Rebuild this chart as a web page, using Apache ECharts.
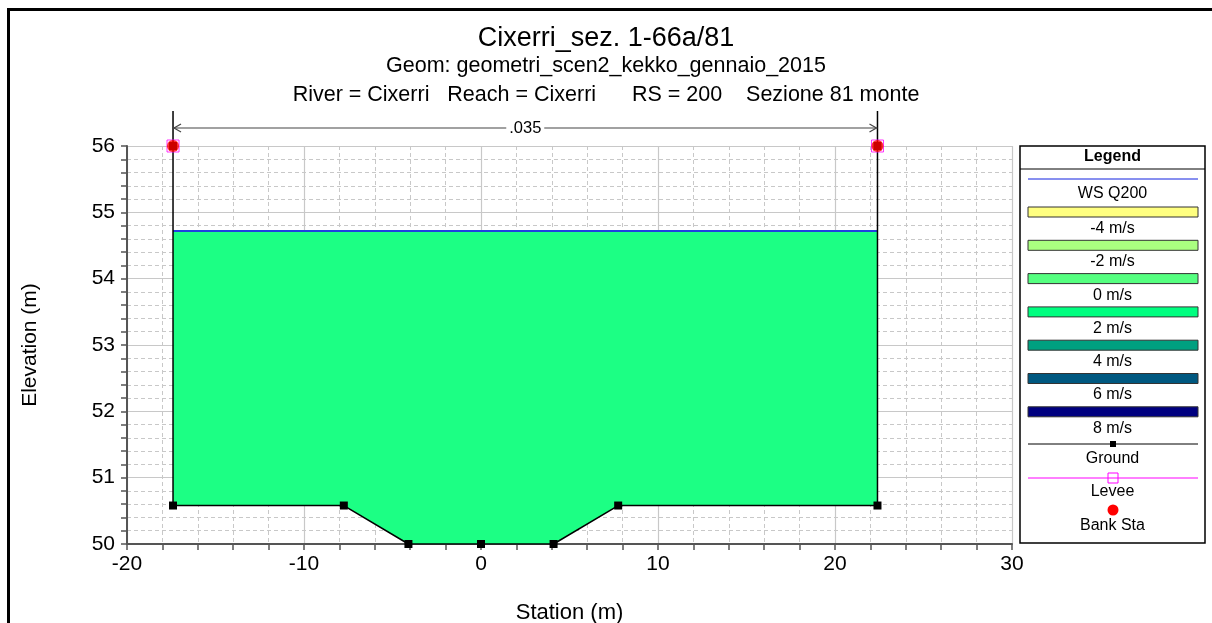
<!DOCTYPE html>
<html><head><meta charset="utf-8">
<script src="https://cdn.jsdelivr.net/npm/echarts@6/dist/echarts.min.js"></script>
<style>html,body{margin:0;padding:0;background:#fff}#c{width:1212px;height:623px}</style>
</head><body><div id="c"></div>
<script>
// ---- data ----
const titleMain = 'Cixerri_sez. 1-66a/81';
const titleGeom = 'Geom: geometri_scen2_kekko_gennaio_2015';
const titleRiver = 'River = Cixerri   Reach = Cixerri      RS = 200    Sezione 81 monte';
const stationX = [-17.4, -17.4, -7.75, -4.1, 0, 4.1, 7.75, 22.4, 22.4];
const groundElev = [56, 50.58, 50.58, 50, 50, 50, 50.58, 50.58, 56];
const wsElev = 54.72;
const bankSta = [-17.4, 22.4];
const bankElev = [56, 56];
const leveeSta = [-17.4, 22.4];
const leveeElev = [56, 56];
const manningN = '.035';
const legendBarLabels = ['-4 m/s', '-2 m/s', '0 m/s', '2 m/s', '4 m/s', '6 m/s', '8 m/s'];
const legendBarColors = ['#ffff80', '#aaff80', '#55ff80', '#00ff80', '#00a080', '#005880', '#000080'];
const waterColor = '#1cff84';

const FONT = 'Liberation Sans, Arial, sans-serif';
const chart = echarts.init(document.getElementById('c'), null, {renderer: 'canvas'});

const groundData = stationX.map((x, i) => [x, groundElev[i]]);
const wsData = [[stationX[0], wsElev], [stationX[stationX.length - 1], wsElev]];

function waterPolygon(api) {
  const pts = [];
  for (let i = 0; i < groundData.length; i++) {
    const p0 = groundData[i];
    if (p0[1] <= wsElev) pts.push(p0);
    if (i < groundData.length - 1) {
      const p1 = groundData[i + 1];
      if ((p0[1] - wsElev) * (p1[1] - wsElev) < 0) {
        const t = (wsElev - p0[1]) / (p1[1] - p0[1]);
        pts.push([p0[0] + t * (p1[0] - p0[0]), wsElev]);
      }
    }
  }
  return pts.map(p => api.coord(p));
}

// legend graphics
const LX = 1020, LY = 146, LW = 185, LH = 397, LCX = LX + LW / 2;
const LF = '16px ' + FONT;
const legendEls = [
  {type: 'rect', shape: {x: LX, y: LY, width: LW, height: LH}, style: {fill: '#fff', stroke: '#000', lineWidth: 1.5}},
  {type: 'line', shape: {x1: LX, y1: 169, x2: LX + LW, y2: 169}, style: {stroke: '#000', lineWidth: 1}},
  {type: 'text', x: LCX, y: 157, style: {text: 'Legend', font: 'bold 16px ' + FONT, fill: '#000', align: 'center', verticalAlign: 'middle'}},
  {type: 'line', shape: {x1: 1028, y1: 179, x2: 1198, y2: 179}, style: {stroke: '#1020e0', lineWidth: 1}},
  {type: 'text', x: LCX, y: 194, style: {text: 'WS Q200', font: LF, fill: '#000', align: 'center', verticalAlign: 'middle'}}
];
legendBarLabels.forEach((lab, i) => {
  const yb = 207 + i * 33.3;
  legendEls.push({type: 'rect', shape: {x: 1028, y: yb, width: 170, height: 10}, style: {fill: legendBarColors[i], stroke: '#333', lineWidth: 1}});
  legendEls.push({type: 'text', x: LCX, y: yb + 21.5, style: {text: lab, font: LF, fill: '#000', align: 'center', verticalAlign: 'middle'}});
});
legendEls.push(
  {type: 'line', shape: {x1: 1028, y1: 444, x2: 1198, y2: 444}, style: {stroke: '#000', lineWidth: 1}},
  {type: 'rect', shape: {x: 1110, y: 441, width: 6, height: 6}, style: {fill: '#000'}},
  {type: 'text', x: LCX, y: 459, style: {text: 'Ground', font: LF, fill: '#000', align: 'center', verticalAlign: 'middle'}},
  {type: 'line', shape: {x1: 1028, y1: 478, x2: 1198, y2: 478}, style: {stroke: '#ff00ff', lineWidth: 1}},
  {type: 'rect', shape: {x: 1108, y: 473, width: 10, height: 10}, style: {fill: 'none', stroke: '#ff00ff', lineWidth: 1}},
  {type: 'text', x: LCX, y: 492, style: {text: 'Levee', font: LF, fill: '#000', align: 'center', verticalAlign: 'middle'}},
  {type: 'circle', shape: {cx: 1113, cy: 510, r: 5.5}, style: {fill: '#ff0000'}},
  {type: 'text', x: LCX, y: 526, style: {text: 'Bank Sta', font: LF, fill: '#000', align: 'center', verticalAlign: 'middle'}}
);

const gridLine = '#c8c8c8';
const axisCommon = {
  axisLine: {show: true, onZero: false, lineStyle: {color: '#555', width: 2}},
  axisTick: {show: true, inside: false, length: 6, lineStyle: {color: '#555', width: 1.5}},
  minorTick: {show: true, splitNumber: 5, length: 6, lineStyle: {color: '#555', width: 1.5}},
  splitLine: {show: true, lineStyle: {color: gridLine, width: 1.2}},
  minorSplitLine: {show: true, lineStyle: {color: gridLine, width: 1, type: [4, 3]}},
  axisLabel: {color: '#000', fontSize: 21, fontFamily: FONT},
  nameTextStyle: {color: '#000', fontSize: 21, fontFamily: FONT}
};

const option = {
  animation: false,
  backgroundColor: '#fff',
  title: [
    {text: titleMain, left: 'center', top: 20, textStyle: {fontSize: 27, fontWeight: 'normal', color: '#000', fontFamily: FONT}},
    {text: titleGeom, left: 'center', top: 50, textStyle: {fontSize: 21.5, fontWeight: 'normal', color: '#000', fontFamily: FONT}},
    {text: titleRiver, left: 'center', top: 79, textStyle: {fontSize: 21.5, fontWeight: 'normal', color: '#000', fontFamily: FONT}}
  ],
  grid: {left: 127, right: 200, top: 146, bottom: 79, containLabel: false, outerBoundsMode: 'none'},
  xAxis: Object.assign({}, axisCommon, {
    type: 'value', min: -20, max: 30, interval: 10,
    name: 'Station (m)', nameLocation: 'middle', nameGap: 58,
    nameTextStyle: Object.assign({}, axisCommon.nameTextStyle, {fontSize: 22}),
    axisLabel: Object.assign({}, axisCommon.axisLabel, {margin: 10})
  }),
  yAxis: Object.assign({}, axisCommon, {
    type: 'value', min: 50, max: 56, interval: 1,
    name: 'Elevation (m)', nameLocation: 'middle', nameGap: 86, nameRotate: 90,
    axisLabel: Object.assign({}, axisCommon.axisLabel, {margin: 12})
  }),
  graphic: [
    {type: 'rect', left: 6, top: 7, shape: {x: 0, y: 0, width: 1300, height: 700}, style: {fill: 'none', stroke: '#000', lineWidth: 3}, z: 100, silent: true},
    {type: 'group', children: legendEls, z: 50}
  ],
  series: [
    {
      type: 'custom', name: 'water', coordinateSystem: 'cartesian2d', data: [[0, 50]], z: 2, clip: false,
      renderItem: (params, api) => ({
        type: 'polygon', shape: {points: waterPolygon(api)}, style: {fill: waterColor, stroke: 'none'}
      })
    },
    {
      type: 'line', name: 'WS Q200', data: wsData, symbol: 'none', z: 3,
      lineStyle: {color: '#2040e0', width: 2}
    },
    {
      type: 'custom', name: 'dimension', coordinateSystem: 'cartesian2d', data: [[0, 56]], z: 4, clip: false,
      renderItem: (params, api) => {
        const a = api.coord([stationX[0], groundElev[0]]);
        const b = api.coord([stationX[stationX.length - 1], groundElev[groundElev.length - 1]]);
        const ya = a[1] - 18, yt = a[1] - 35;
        const cx = (a[0] + b[0]) / 2;
        const stroke = {stroke: '#444', lineWidth: 1.2, fill: 'none'};
        return {type: 'group', children: [
          {type: 'line', shape: {x1: a[0], y1: yt, x2: a[0], y2: a[1]}, style: {stroke: '#000', lineWidth: 1.5}},
          {type: 'line', shape: {x1: b[0], y1: yt, x2: b[0], y2: b[1]}, style: {stroke: '#000', lineWidth: 1.5}},
          {type: 'line', shape: {x1: a[0], y1: ya, x2: cx - 19, y2: ya}, style: stroke},
          {type: 'line', shape: {x1: cx + 19, y1: ya, x2: b[0], y2: ya}, style: stroke},
          {type: 'polyline', shape: {points: [[a[0] + 8, ya - 4], [a[0] + 1, ya], [a[0] + 8, ya + 4]]}, style: stroke},
          {type: 'polyline', shape: {points: [[b[0] - 8, ya - 4], [b[0] - 1, ya], [b[0] - 8, ya + 4]]}, style: stroke},
          {type: 'text', x: cx, y: ya, style: {text: manningN, font: '16.5px ' + FONT, fill: '#000', align: 'center', verticalAlign: 'middle'}}
        ]};
      }
    },
    {
      type: 'line', name: 'Ground', data: groundData, z: 5,
      symbol: 'rect', symbolSize: 8, showAllSymbol: true,
      lineStyle: {color: '#000', width: 1.5}, itemStyle: {color: '#000'}
    },
    {
      type: 'scatter', name: 'Levee', data: leveeSta.map((x, i) => [x, leveeElev[i]]), z: 6,
      symbol: 'rect', symbolSize: 12, itemStyle: {color: 'none', borderColor: '#ff00ff', borderWidth: 1}
    },
    {
      type: 'scatter', name: 'Bank Sta', data: bankSta.map((x, i) => [x, bankElev[i]]), z: 7,
      symbol: 'circle', symbolSize: 12, itemStyle: {color: '#ff0000'}
    }
  ]
};
chart.setOption(option);
</script></body></html>
